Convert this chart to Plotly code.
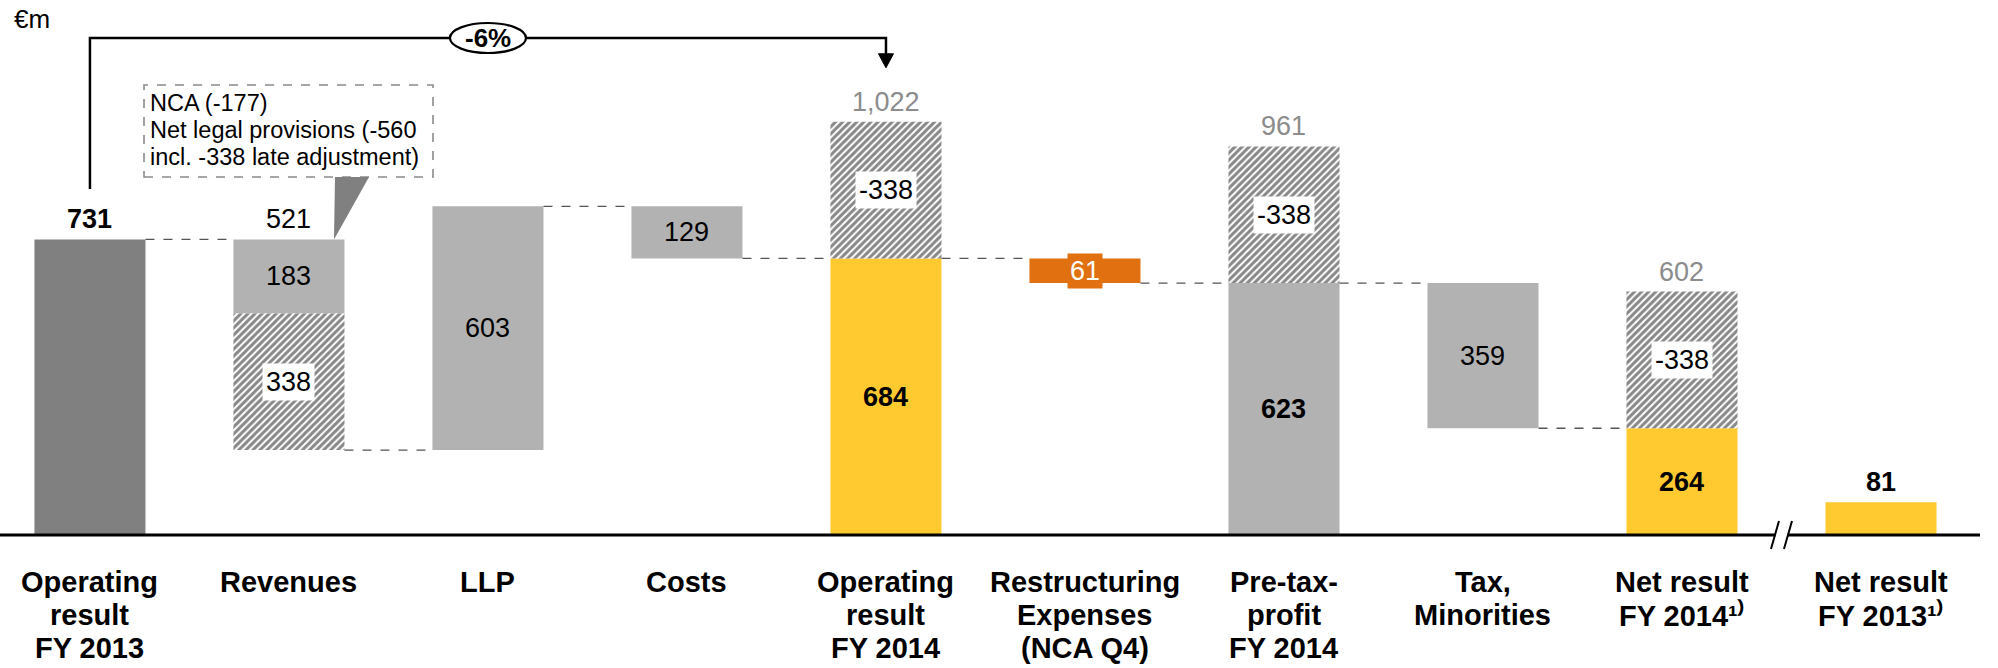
import plotly.graph_objects as go

# ---------------- data ----------------
categories = ["Operating<br>result<br>FY 2013", "Revenues", "LLP", "Costs",
              "Operating<br>result<br>FY 2014", "Restructuring<br>Expenses<br>(NCA Q4)",
              "Pre-tax-<br>profit<br>FY 2014", "Tax,<br>Minorities",
              "Net result<br>FY 2014¹⁾", "Net result<br>FY 2013¹⁾"]
step_kind = ["start", "delta", "delta", "delta", "total", "delta", "total", "delta", "total", "separate"]
step_value = [731, -183, 603, -129, 684, -61, 623, -359, 264, 81]
late_adjustment = [0, -338, 0, 0, 338, 0, 338, 0, 338, 0]
top_labels = ["731", "521", "", "", "1,022", "", "961", "", "602", "81"]
top_label_style = ["bold", "normal", "", "", "grey", "", "grey", "", "grey", "bold"]
inner_labels = ["", "183", "603", "129", "684", "61", "623", "359", "264", ""]
inner_bold = [False, False, False, False, True, False, True, False, True, False]
hatch_labels = ["", "338", "", "", "-338", "", "-338", "", "-338", ""]
bar_colors = ["#808080", "#b2b2b2", "#b2b2b2", "#b2b2b2", "#ffca30",
              "#e07010", "#b2b2b2", "#b2b2b2", "#ffca30", "#ffca30"]
change_pct = "-6%"
callout_lines = ["NCA (-177)", "Net legal provisions (-560", "incl. -338 late adjustment)"]

# ---------------- geometry helpers ----------------
W, H = 1998, 668
T_MARGIN = 10
Y0, Y1 = -329.0, 1298.5
X0, X1 = -0.452, 9.588
BAR_W = 0.558
FONT = "Liberation Sans, Arial, sans-serif"


def px2y(p):
    return Y1 - (p - T_MARGIN) * (Y1 - Y0) / (H - T_MARGIN)


def px2x(p):
    return X0 + p * (X1 - X0) / W


DY = (Y1 - Y0) / (H - T_MARGIN)   # data units per pixel (y)
DX = (X1 - X0) / W                # data units per pixel (x)

# ---------------- waterfall computation ----------------
n = len(categories)
xs = list(range(n))
solid_base, solid_h = [], []
hatch_x, hatch_base, hatch_h, hatch_text = [], [], [], []
levels_after = []
tops = []
level = 0
for i in range(n):
    k, v, late = step_kind[i], step_value[i], late_adjustment[i]
    if k in ("start", "total", "separate"):
        solid_base.append(0)
        solid_h.append(v)
        top = v
        if late:
            hatch_x.append(i)
            hatch_base.append(v)
            hatch_h.append(late)
            hatch_text.append(hatch_labels[i])
            top = v + late
        if k != "separate":
            level = v
        tops.append(top)
    else:
        start = level
        end = level + v
        solid_base.append(min(start, end))
        solid_h.append(abs(v))
        level = end
        if late:
            hb = level + late
            hatch_x.append(i)
            hatch_base.append(min(level, hb))
            hatch_h.append(abs(late))
            hatch_text.append(hatch_labels[i])
            level = hb
        tops.append(max(start, end))
    levels_after.append(level)

fig = go.Figure()
fig.add_trace(go.Bar(x=xs, y=solid_h, base=solid_base, width=BAR_W,
                     marker=dict(color=bar_colors, line=dict(width=0)),
                     hoverinfo="skip", showlegend=False))
fig.add_trace(go.Bar(x=hatch_x, y=hatch_h, base=hatch_base, width=BAR_W,
                     marker=dict(color="white", line=dict(width=0),
                                 pattern=dict(shape="/", fgcolor="#111111", bgcolor="white",
                                              size=5, solidity=0.6)),
                     hoverinfo="skip", showlegend=False))

shapes = []
annotations = []

# connectors
for i in range(n - 2):
    lv = levels_after[i]
    shapes.append(dict(type="line", xref="x", yref="y",
                       x0=i + BAR_W / 2, x1=i + 1 - BAR_W / 2, y0=lv, y1=lv,
                       line=dict(color="#555555", width=1.3, dash="dash")))

# axis baseline with break
brk = 8.5
shapes.append(dict(type="line", xref="x", yref="y", x0=X0, x1=px2x(1980), y0=0, y1=0,
                   line=dict(color="black", width=3)))
shapes.append(dict(type="rect", xref="x", yref="y", x0=brk - 6 * DX, x1=brk + 6 * DX,
                   y0=-4 * DY, y1=4 * DY, fillcolor="white", line=dict(width=0)))
for off in (-6.5 * DX, 6.5 * DX):
    shapes.append(dict(type="line", xref="x", yref="y",
                       x0=brk + off - 4 * DX, x1=brk + off + 4 * DX,
                       y0=-14 * DY, y1=14 * DY, line=dict(color="black", width=2)))

# bar labels
for i in range(n):
    if top_labels[i]:
        st = top_label_style[i]
        annotations.append(dict(x=i, y=tops[i], xref="x", yref="y", text=top_labels[i],
                                showarrow=False, yanchor="bottom", yshift=3,
                                font=dict(family=FONT, size=27,
                                          color="#8c8c8c" if st == "grey" else "black",
                                          weight="bold" if st == "bold" else "normal")))
    if inner_labels[i]:
        mid = solid_base[i] + solid_h[i] / 2
        is_orange = bar_colors[i] == "#e07010"
        annotations.append(dict(x=i, y=mid, xref="x", yref="y", text=inner_labels[i],
                                showarrow=False, yanchor="middle",
                                bgcolor="#e07010" if is_orange else None,
                                borderpad=2 if is_orange else 0,
                                font=dict(family=FONT, size=27,
                                          color="white" if is_orange else "black",
                                          weight="bold" if inner_bold[i] else "normal")))
for hx, hb, hh, ht in zip(hatch_x, hatch_base, hatch_h, hatch_text):
    annotations.append(dict(x=hx, y=hb + hh / 2, xref="x", yref="y", text=ht,
                            showarrow=False, yanchor="middle", bgcolor="white", borderpad=3,
                            font=dict(family=FONT, size=27, color="black")))

# category labels (one annotation per line for tight line spacing)
for i in range(n):
    for j, line in enumerate(categories[i].split("<br>")):
        annotations.append(dict(x=i, y=px2y(582 + 33 * j), xref="x", yref="y", text=line,
                                showarrow=False, yanchor="middle", align="center",
                                font=dict(family=FONT, size=29, color="black", weight="bold")))

# unit label
annotations.append(dict(x=px2x(12), y=px2y(19), xref="x", yref="y", text="€m",
                        showarrow=False, xanchor="left", yanchor="middle",
                        font=dict(family=FONT, size=26, color="black")))

# -6% bracket arrow
y_br = px2y(38)
tip = tops[4] + 20 * DY + 34 * DY
shapes.append(dict(type="path", xref="x", yref="y",
                   path=f"M 0,{px2y(189)} L 0,{y_br} L 4,{y_br} L 4,{tip + 13 * DY}",
                   line=dict(color="black", width=2.5)))
shapes.append(dict(type="path", xref="x", yref="y",
                   path=f"M {4 - 7.5 * DX},{tip + 14 * DY} L {4 + 7.5 * DX},{tip + 14 * DY} L 4,{tip} Z",
                   fillcolor="black", line=dict(color="black", width=1)))
shapes.append(dict(type="circle", xref="x", yref="y",
                   x0=2 - 38 * DX, x1=2 + 38 * DX, y0=y_br - 15 * DY, y1=y_br + 15 * DY,
                   fillcolor="white", line=dict(color="black", width=2.2)))
annotations.append(dict(x=2, y=y_br, xref="x", yref="y", text=change_pct, showarrow=False,
                        yanchor="middle",
                        font=dict(family=FONT, size=26, color="black", weight="bold")))

# callout box
shapes.append(dict(type="rect", xref="x", yref="y", x0=px2x(144), x1=px2x(433),
                   y0=px2y(177), y1=px2y(85), fillcolor="white",
                   line=dict(color="#8a8a8a", width=1.6, dash="dash")))
shapes.append(dict(type="path", xref="x", yref="y",
                   path=f"M {px2x(335)},{px2y(177)} L {px2x(369)},{px2y(177)} L {px2x(334)},{tops[1]} Z",
                   fillcolor="#808080", line=dict(width=0)))
for j, line in enumerate(callout_lines):
    annotations.append(dict(x=px2x(148), y=px2y(103 + 27 * j), xref="x", yref="y", text=line,
                            showarrow=False, xanchor="left", yanchor="middle",
                            font=dict(family=FONT, size=23.5, color="black")))

fig.update_layout(
    width=W, height=H,
    margin=dict(l=0, r=0, t=T_MARGIN, b=0),
    plot_bgcolor="white", paper_bgcolor="white",
    barmode="overlay",
    xaxis=dict(range=[X0, X1], visible=False, fixedrange=True),
    yaxis=dict(range=[Y0, Y1], visible=False, fixedrange=True),
    shapes=shapes, annotations=annotations,
    font=dict(family=FONT),
)

fig.write_html("out.html", config={"displayModeBar": False},
               post_script="document.body.style.margin='0';")
